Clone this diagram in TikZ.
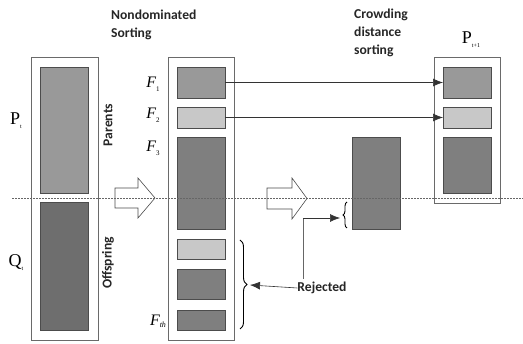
\documentclass[tikz,border=0pt]{standalone}
\usepackage{fontspec}
\setmainfont{Liberation Serif}
\newfontfamily\calib{Carlito}
\usetikzlibrary{decorations.pathreplacing,arrows.meta}
\definecolor{framec}{HTML}{6A6A6A}
\definecolor{medg}{HTML}{999999}
\definecolor{lightg}{HTML}{C8C8C8}
\definecolor{darkg}{HTML}{7F7F7F}
\definecolor{darkerg}{HTML}{6E6E6E}
\tikzset{
  outerbox/.style={draw=framec, line width=0.7pt, fill=white, inner sep=0pt, outer sep=0pt},
  fillbox/.style={draw=black!70, line width=0.6pt, inner sep=0pt, outer sep=0pt, minimum width=48pt},
  medbox/.style={fillbox, fill=medg},
  lightbox/.style={fillbox, fill=lightg},
  darkbox/.style={fillbox, fill=darkg},
  darkerbox/.style={fillbox, fill=darkerg},
  sanslabel/.style={font=\calib\bfseries\fontsize{13.6}{18}\selectfont, text=black!85, inner sep=0pt},
  flabel/.style={font=\fontsize{16}{16}\selectfont\itshape, inner sep=0pt},
  plabel/.style={font=\fontsize{18}{18}\selectfont, inner sep=0pt},
  conn/.style={line width=0.6pt, draw=black!80, -{Latex[length=10pt,width=8pt]}},
  grayconn/.style={line width=0.6pt, draw=black!60},
  hollow/.style={draw=black!70, line width=0.6pt, fill=white},
  bracedeco/.style={decorate, line width=0.9pt, draw=black}
}
\begin{document}
\begin{tikzpicture}[x=1pt,y=-1pt]
\useasboundingbox (0,0) rectangle (523,344);
% population box
\node[outerbox, minimum width=67pt, minimum height=283pt] (pop) at (64.5,198.5) {};
\node[medbox, minimum height=126pt] (pt) at (64,130) {};
\node[darkerbox, minimum height=128pt] (qt) at (64,266) {};
\node[plabel] (ptl) at (16,121) {P\raisebox{-4pt}{\fontsize{6}{6}\selectfont t}};
\node[plabel] (qtl) at (16,263) {Q\raisebox{-4pt}{\fontsize{6}{6}\selectfont t}};
\node[sanslabel, rotate=90] (par) at (108,125) {Parents};
\node[sanslabel, rotate=90] (off) at (108,263) {Offspring};
% nondominated sorting
\node[sanslabel, anchor=west, align=left] (nds) at (111,24.5) {Nondominated\\Sorting};
\node[outerbox, minimum width=66pt, minimum height=283pt] (mid) at (201,198.5) {};
\node[medbox, minimum height=31pt] (f1) at (201,82.5) {};
\node[lightbox, minimum height=21pt] (f2) at (201,117.5) {};
\node[darkbox, minimum height=92pt] (f3) at (201,183) {};
\node[lightbox, minimum height=20pt] (r1) at (201,249) {};
\node[darkbox, minimum height=30pt] (r2) at (201,284) {};
\node[darkbox, minimum height=20pt] (fth) at (201,320) {};
\node[flabel] (f1l) at (153,84) {F\raisebox{-4pt}{\upshape\fontsize{7}{7}\selectfont 1}};
\node[flabel] (f2l) at (153,115) {F\raisebox{-4pt}{\upshape\fontsize{7}{7}\selectfont 2}};
\node[flabel] (f3l) at (153,148) {F\raisebox{-4pt}{\upshape\fontsize{7}{7}\selectfont 3}};
\node[flabel] (fthl) at (158,321) {F\raisebox{-2pt}{\fontsize{8}{8}\selectfont th}};
% hollow arrows
\draw[hollow] (115,188) -- (138,188) -- (138,178) -- (155,198) -- (138,218) -- (138,208) -- (115,208) -- cycle;
\draw[hollow] (267,188) -- (292,188) -- (292,178) -- (307,198.5) -- (292,219) -- (292,209) -- (267,209) -- cycle;
% crowding distance sorting
\node[sanslabel, anchor=west, align=left] (cds) at (354,33) {Crowding\\distance\\sorting};
\node[darkbox, minimum height=92pt] (cr) at (376,183) {};
% next population
\node[outerbox, minimum width=66pt, minimum height=146pt] (next) at (467,130) {};
\node[medbox, minimum height=31pt] (n1) at (467,82.5) {};
\node[lightbox, minimum height=21pt] (n2) at (467,117.5) {};
\node[darkbox, minimum height=56pt] (n3) at (467,165) {};
\node[plabel] (pnl) at (471,40) {P\raisebox{-4pt}{\fontsize{6}{6}\selectfont t+1}};
% connectors
\draw[conn] (f1.east) -- (n1.west);
\draw[conn] (f2.east) -- (n2.west);
% braces
\draw[bracedeco, decoration={brace, amplitude=7pt}] (240,240) -- (240,329);
\draw[bracedeco, decoration={brace, amplitude=4pt}] (347,228) -- (347,202);
\coordinate (bigtip) at (250,285);
\coordinate (smalltip) at (340,218);
\node[sanslabel] (rej) at (322,288) {Rejected};
\draw[conn] (rej.west) -- (bigtip);
\draw[grayconn] (303,279) -- (303,218);
\draw[conn] (303,218) -- (smalltip);
% dotted separator
\draw[black!60, line width=0.6pt, dash pattern=on 1.5pt off 1.5pt] (12,198) -- (523,198);
\end{tikzpicture}
\end{document}
